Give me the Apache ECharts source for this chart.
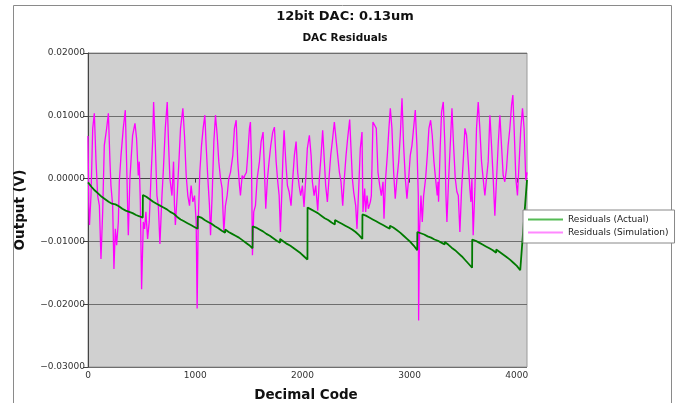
<!DOCTYPE html>
<html>
<head>
<meta charset="utf-8">
<script src="https://cdn.jsdelivr.net/npm/echarts@6/dist/echarts.min.js"></script>
<style>
html,body{margin:0;padding:0;background:#fff;}
#chart{width:681px;height:403px;}
</style>
</head>
<body>
<div id="chart"></div>
<script>
const chartTitle = '12bit DAC: 0.13um';
const chartSubtitle = 'DAC Residuals';
const xAxisName = 'Decimal Code';
const yAxisName = 'Output (V)';
const seriesNames = ['Residuals (Actual)', 'Residuals (Simulation)'];
const xTickValues = [0, 1000, 2000, 3000, 4000];
const yTickValues = [-0.03, -0.02, -0.01, 0, 0.01, 0.02];
const yTickLabels = ['\u22120.03000', '\u22120.02000', '\u22120.01000', '0.00000', '0.01000', '0.02000'];

const actualCodes = [
  0,16,32,48,64,96,128,160,192,224,256,288,320,352,384,416,448,480,511,
  512,544,576,608,640,672,704,736,767,768,800,832,864,896,928,960,992,1023,
  1024,1056,1088,1120,1152,1184,1216,1248,1279,1280,1312,1344,1376,1408,1440,1472,1504,1535,
  1536,1568,1600,1632,1664,1696,1728,1760,1791,1792,1824,1856,1888,1920,1952,1984,2016,2047,
  2048,2080,2112,2144,2176,2208,2240,2272,2303,2304,2336,2368,2400,2432,2464,2496,2528,2559,
  2560,2592,2624,2656,2688,2720,2752,2784,2815,2816,2848,2880,2912,2944,2976,3008,3040,3071,
  3072,3104,3136,3168,3200,3232,3264,3296,3327,3328,3360,3392,3424,3456,3488,3520,3552,3583,
  3584,3616,3648,3680,3712,3744,3776,3807,3808,3840,3872,3904,3936,3968,4000,4032,4048,4095
];
const actualValues = [
  -0.0006,-0.0009,-0.0013,-0.0016,-0.0019,-0.0024,-0.0029,-0.0033,-0.0037,-0.0040,-0.0041,-0.0044,-0.0048,-0.0051,-0.0053,-0.0055,-0.0058,-0.0060,-0.0062,
  -0.0026,-0.0029,-0.0033,-0.0037,-0.0040,-0.0043,-0.0046,-0.0049,-0.0053,-0.0051,-0.0056,-0.0061,-0.0065,-0.0068,-0.0071,-0.0074,-0.0077,-0.0080,
  -0.0060,-0.0062,-0.0066,-0.0069,-0.0072,-0.0076,-0.0079,-0.0083,-0.0086,-0.0081,-0.0085,-0.0088,-0.0091,-0.0094,-0.0098,-0.0102,-0.0106,-0.0111,
  -0.0076,-0.0078,-0.0081,-0.0084,-0.0088,-0.0091,-0.0095,-0.0099,-0.0102,-0.0096,-0.0100,-0.0104,-0.0107,-0.0111,-0.0115,-0.0119,-0.0124,-0.0129,
  -0.0046,-0.0049,-0.0052,-0.0055,-0.0059,-0.0063,-0.0066,-0.0070,-0.0073,-0.0066,-0.0069,-0.0072,-0.0075,-0.0078,-0.0081,-0.0085,-0.0090,-0.0096,
  -0.0057,-0.0059,-0.0062,-0.0065,-0.0068,-0.0071,-0.0074,-0.0077,-0.0080,-0.0075,-0.0078,-0.0082,-0.0086,-0.0091,-0.0096,-0.0101,-0.0107,-0.0114,
  -0.0085,-0.0087,-0.0089,-0.0092,-0.0094,-0.0097,-0.0099,-0.0102,-0.0105,-0.0101,-0.0105,-0.0110,-0.0114,-0.0119,-0.0124,-0.0130,-0.0136,-0.0142,
  -0.0097,-0.0099,-0.0102,-0.0105,-0.0108,-0.0111,-0.0114,-0.0118,-0.0113,-0.0117,-0.0121,-0.0125,-0.0129,-0.0134,-0.0139,-0.0146,-0.0149,-0.0002
];

const simCodes = [
  0,8,14,28,44,59,75,90,106,121,
  137,152,174,190,205,214,230,242,255,267,
  283,292,308,329,348,360,376,391,416,438,
  453,469,478,488,500,516,528,540,556,571,
  587,603,612,628,643,656,671,690,702,721,
  739,752,764,783,798,806,815,832,848,863,
  885,900,916,931,947,962,978,994,1009,1018,
  1028,1043,1059,1074,1090,1102,1118,1133,1143,1158,
  1174,1189,1205,1220,1236,1251,1267,1282,1298,1313,
  1329,1351,1366,1382,1397,1413,1422,1438,1453,1462,
  1478,1490,1506,1515,1525,1534,1546,1562,1578,1599,
  1615,1633,1643,1658,1674,1689,1705,1723,1739,1755,
  1770,1783,1795,1807,1817,1829,1845,1860,1876,1894,
  1910,1925,1941,1956,1969,1984,2000,2015,2031,2046,
  2065,2081,2093,2109,2124,2143,2158,2174,2189,2205,
  2217,2233,2248,2264,2279,2298,2314,2329,2345,2360,
  2376,2391,2407,2422,2441,2466,2478,2497,2509,2525,
  2540,2556,2565,2581,2590,2603,2615,2634,2643,2658,
  2674,2689,2705,2721,2736,2752,2761,2776,2792,2807,
  2820,2835,2851,2866,2882,2898,2913,2929,2944,2960,
  2975,2991,3006,3022,3037,3053,3068,3081,3084,3093,
  3106,3118,3131,3149,3165,3180,3196,3211,3227,3242,
  3258,3265,3270,3286,3298,3314,3329,3339,3348,3364,
  3379,3395,3410,3426,3441,3454,3469,3485,3500,3516,
  3531,3547,3562,3572,3581,3593,3609,3624,3640,3655,
  3671,3686,3702,3717,3733,3749,3764,3780,3795,3811,
  3826,3842,3857,3873,3888,3904,3919,3935,3951,3963,
  3975,3991,4006,4022,4037,4053,4068,4084,4095
];
const simValues = [
  0.0068,-0.0045,-0.0074,-0.0027,0.0080,0.0104,0.0027,-0.0027,-0.0043,-0.0128,
  -0.0053,0.0053,0.0080,0.0104,0.0027,-0.0011,-0.0043,-0.0144,-0.0080,-0.0106,
  -0.0069,-0.0005,0.0037,0.0080,0.0109,0.0027,-0.0090,0.0000,0.0069,0.0088,
  0.0064,0.0005,0.0027,-0.0037,-0.0176,-0.0069,-0.0080,-0.0053,-0.0096,-0.0069,
  0.0000,0.0059,0.0122,0.0053,-0.0027,-0.0043,-0.0104,-0.0027,0.0010,0.0080,
  0.0122,0.0053,0.0000,-0.0027,0.0027,-0.0040,-0.0074,-0.0027,0.0027,0.0080,
  0.0112,0.0069,0.0005,-0.0027,-0.0043,-0.0011,-0.0037,-0.0027,-0.0069,-0.0207,
  -0.0069,0.0010,0.0053,0.0080,0.0101,0.0053,0.0000,-0.0043,-0.0090,-0.0027,
  0.0059,0.0101,0.0069,0.0027,0.0000,-0.0016,-0.0085,-0.0043,-0.0027,0.0000,
  0.0010,0.0037,0.0080,0.0093,0.0027,-0.0011,-0.0027,0.0005,0.0000,0.0005,
  0.0010,0.0037,0.0080,0.0090,0.0027,-0.0122,-0.0053,-0.0043,0.0000,0.0027,
  0.0059,0.0074,0.0027,-0.0048,0.0000,0.0027,0.0053,0.0074,0.0082,0.0027,
  -0.0005,-0.0027,-0.0085,-0.0027,0.0027,0.0077,0.0027,-0.0011,-0.0021,-0.0043,
  0.0000,0.0037,0.0059,0.0010,-0.0011,-0.0027,-0.0011,-0.0045,0.0000,0.0048,
  0.0069,0.0037,-0.0005,-0.0027,-0.0011,-0.0051,0.0000,0.0037,0.0077,0.0027,
  -0.0011,-0.0037,0.0000,0.0037,0.0059,0.0090,0.0093,0.0037,0.0010,-0.0005,
  -0.0043,0.0000,0.0037,0.0064,0.0094,0.0000,-0.0021,-0.0043,-0.0080,-0.0016,
  0.0048,0.0074,-0.0053,-0.0016,-0.0053,-0.0027,-0.0048,-0.0037,-0.0027,0.0090,
  0.0085,0.0080,0.0010,-0.0011,-0.0027,-0.0005,-0.0064,0.0000,0.0037,0.0080,
  0.0112,0.0080,0.0010,-0.0032,0.0000,0.0027,0.0069,0.0128,0.0053,0.0000,
  -0.0032,0.0000,0.0037,0.0053,0.0080,0.0109,0.0053,-0.0027,-0.0226,-0.0080,
  -0.0027,-0.0069,-0.0027,0.0000,0.0037,0.0080,0.0093,0.0069,0.0027,0.0000,
  -0.0027,-0.0005,-0.0037,0.0053,0.0106,0.0122,0.0053,-0.0027,-0.0069,0.0000,
  0.0053,0.0112,0.0053,0.0000,-0.0021,-0.0027,-0.0085,-0.0016,0.0027,0.0080,
  0.0069,0.0027,-0.0016,-0.0037,0.0000,-0.0090,-0.0016,0.0080,0.0122,0.0080,
  0.0027,0.0000,-0.0027,0.0000,0.0027,0.0101,0.0053,0.0000,-0.0059,0.0000,
  0.0053,0.0101,0.0053,0.0005,-0.0005,0.0016,0.0053,0.0080,0.0117,0.0133,
  0.0080,0.0000,-0.0027,0.0027,0.0080,0.0112,0.0080,-0.0003,0.0010
];

const actualData = actualCodes.map((c, i) => [c, actualValues[i]]);
const simData = simCodes.map((c, i) => [c, simValues[i]]);

const chart = echarts.init(document.getElementById('chart'), null, {renderer: 'canvas'});
const FONT = 'DejaVu Sans';
const option = {
  animation: false,
  backgroundColor: '#ffffff',
  grid: {
    left: 88, top: 53, width: 439, height: 314,
    show: true, backgroundColor: '#d0d0d0', borderColor: '#9a9a9a', borderWidth: 1
  },
  xAxis: {
    type: 'value', min: 0, max: 4095, interval: 1000,
    axisLine: {show: true, lineStyle: {color: '#444', width: 1}},
    axisTick: {show: true, length: 4, lineStyle: {color: '#444'}},
    splitLine: {show: false},
    axisLabel: {
      fontFamily: FONT, fontSize: 9, color: '#333', margin: 4,
      showMaxLabel: false,
      formatter: v => (xTickValues.indexOf(Math.round(v)) >= 0 ? String(Math.round(v)) : '')
    }
  },
  yAxis: {
    type: 'value', min: -0.03, max: 0.02, interval: 0.01,
    axisLine: {show: true, lineStyle: {color: '#444', width: 1}},
    axisTick: {show: true, length: 5, lineStyle: {color: '#444'}},
    splitLine: {show: true, lineStyle: {color: '#6e6e6e', width: 1}},
    axisLabel: {
      fontFamily: FONT, fontSize: 9, color: '#333', margin: 3,
      formatter: v => {
        let best = 0, d = Infinity;
        yTickValues.forEach((t, i) => { if (Math.abs(t - v) < d) { d = Math.abs(t - v); best = i; } });
        return yTickLabels[best];
      }
    }
  },
  legend: {
    orient: 'vertical', left: 523, top: 210,
    padding: [4, 6, 5, 5], itemGap: 2,
    backgroundColor: '#ffffff', borderColor: '#888', borderWidth: 1,
    icon: 'rect', itemWidth: 35, itemHeight: 2,
    textStyle: {fontFamily: FONT, fontSize: 9, color: '#222', lineHeight: 11},
    data: [
      {name: seriesNames[0], icon: 'rect', itemStyle: {color: '#55bb55', borderWidth: 0}},
      {name: seriesNames[1], icon: 'rect', itemStyle: {color: '#ff88ff', borderWidth: 0}}
    ]
  },
  series: [
    {
      name: seriesNames[1], type: 'line', data: simData, showSymbol: false,
      lineStyle: {color: '#ff00ff', width: 1.3}, itemStyle: {color: '#ff88ff'}, z: 2
    },
    {
      name: seriesNames[0], type: 'line', data: actualData, showSymbol: false,
      lineStyle: {color: '#007a00', width: 1.8}, itemStyle: {color: '#55bb55'}, z: 3
    }
  ],
  graphic: [
    {type: 'rect', shape: {x: 13.5, y: 5.5, width: 658, height: 420},
     style: {fill: 'none', stroke: '#8a8a8a', lineWidth: 1}, silent: true},
    {type: 'text', x: 345, y: 17, style: {text: chartTitle, fontFamily: FONT, fontWeight: 'bold', fontSize: 13, fill: '#111', textAlign: 'center', textVerticalAlign: 'middle'}},
    {type: 'text', x: 345, y: 38, style: {text: chartSubtitle, fontFamily: FONT, fontWeight: 'bold', fontSize: 10.5, fill: '#111', textAlign: 'center', textVerticalAlign: 'middle'}},
    {type: 'text', x: 306, y: 395, style: {text: xAxisName, fontFamily: FONT, fontWeight: 'bold', fontSize: 13.5, fill: '#111', textAlign: 'center', textVerticalAlign: 'middle'}},
    {type: 'text', x: 20, y: 210, rotation: Math.PI / 2, style: {text: yAxisName, fontFamily: FONT, fontWeight: 'bold', fontSize: 13.5, fill: '#111', textAlign: 'center', textVerticalAlign: 'middle'}}
  ]
};
chart.setOption(option);
</script>
</body>
</html>
